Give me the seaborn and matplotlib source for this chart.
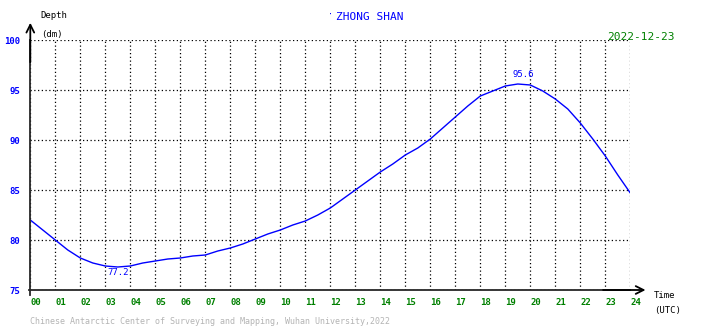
import numpy as np
import pandas as pd
import matplotlib
matplotlib.use("Agg")
import matplotlib.pyplot as plt
import seaborn as sns

# Data
hours = [0, 0.5, 1, 1.5, 2, 2.5, 3, 3.5, 4, 4.5, 5, 5.5, 6, 6.5, 7, 7.5, 8, 8.5,
         9, 9.5, 10, 10.5, 11, 11.5, 12, 12.5, 13, 13.5, 14, 14.5, 15, 15.5, 16,
         16.5, 17, 17.5, 18, 18.5, 19, 19.5, 20, 20.5, 21, 21.5, 22, 22.5, 23,
         23.5, 24]
depth = [82.0, 81.0, 80.0, 79.0, 78.2, 77.7, 77.4, 77.3, 77.4, 77.7, 77.9, 78.1,
         78.2, 78.4, 78.5, 78.9, 79.2, 79.6, 80.1, 80.6, 81.0, 81.5, 81.9, 82.5,
         83.2, 84.1, 85.0, 85.9, 86.8, 87.6, 88.5, 89.2, 90.1, 91.2, 92.3, 93.4,
         94.4, 94.9, 95.4, 95.6, 95.5, 94.9, 94.1, 93.1, 91.7, 90.1, 88.4, 86.5,
         84.7]
x_ticks = list(range(0, 25))
x_labels = [f"{h:02d}" for h in x_ticks]
y_ticks = [75, 80, 85, 90, 95, 100]
max_label = (19.7, 95.6, "95.6")
min_label = (3.5, 77.3, "77.2")
station = "ZHONG SHAN"
date = "2022-12-23"
footer = "Chinese Antarctic Center of Surveying and Mapping, Wuhan University,2022"

df = pd.DataFrame({"hour": hours, "depth": depth})

sns.set_style("white")
plt.rcParams["font.family"] = ["DejaVu Sans Mono"]

W, H = 710, 328
fig = plt.figure(figsize=(W / 100, H / 100), dpi=100)
left, right = 30.3 / W, 630.3 / W
bottom, top = (H - 290) / H, (H - 40) / H
ax = fig.add_axes([left, bottom, right - left, top - bottom])

sns.lineplot(data=df, x="hour", y="depth", ax=ax, color="#0000ff", linewidth=1.0)

ax.set_xlim(0, 24)
ax.set_ylim(75, 100)
ax.set_xticks(x_ticks)
ax.set_xticklabels(x_labels, ha="left")
ax.set_yticks(y_ticks)
ax.set_yticklabels([str(v) for v in y_ticks])
ax.tick_params(axis="x", length=0, pad=6, labelsize=6.5, labelcolor="#008000")
ax.tick_params(axis="y", length=0, pad=7, labelsize=6.5, labelcolor="#0000ff")
for lab in ax.get_xticklabels():
    lab.set_fontweight("bold")
for lab in ax.get_yticklabels():
    lab.set_fontweight("bold")
ax.set_xlabel("")
ax.set_ylabel("")
ax.grid(True, color="black", linestyle=(0, (1, 2)), linewidth=0.9)
for s in ["top", "right"]:
    ax.spines[s].set_visible(False)
ax.spines["left"].set_linewidth(1.3)
ax.spines["bottom"].set_linewidth(1.3)
ax.spines["left"].set_bounds(74.5, 100)
ax.spines["bottom"].set_bounds(-0.05, 24)

# axis arrows
ax.annotate("", xy=(0, 1.08), xytext=(0, 0.9), xycoords="axes fraction",
            arrowprops=dict(arrowstyle="->", color="black", lw=1.3, mutation_scale=14),
            annotation_clip=False)
ax.annotate("", xy=(1.03, 0), xytext=(0.95, 0), xycoords="axes fraction",
            arrowprops=dict(arrowstyle="->", color="black", lw=1.3, mutation_scale=14),
            annotation_clip=False)

ax.text(max_label[0], max_label[1] + 0.5, max_label[2], color="#0000ff",
        fontsize=6.5, ha="center", va="bottom")
ax.text(min_label[0], min_label[1] - 0.1, min_label[2], color="#0000ff",
        fontsize=6.5, ha="center", va="top")

fig.text(370 / W, 1 - 17 / H, station, color="#0000ff", fontsize=8, ha="center", va="center")
fig.text(330 / W, 1 - 15 / H, "\u00b7", color="#0000ff", fontsize=6, ha="center", va="center")
fig.text(641 / W, 1 - 37 / H, date, color="#008000", fontsize=8, ha="center", va="center")
fig.text(40 / W, 1 - 16 / H, "Depth", color="black", fontsize=6.5, ha="left", va="center")
fig.text(41 / W, 1 - 34 / H, "(dm)", color="black", fontsize=6.5, ha="left", va="center")
fig.text(654 / W, 1 - 295 / H, "Time", color="black", fontsize=6.5, ha="left", va="center")
fig.text(654 / W, 1 - 310 / H, "(UTC)", color="black", fontsize=6.5, ha="left", va="center")
fig.text(30 / W, 1 - 321 / H, footer, color="#b4b4b4", fontsize=6, ha="left", va="center")

fig.savefig("out.png", dpi=100)
